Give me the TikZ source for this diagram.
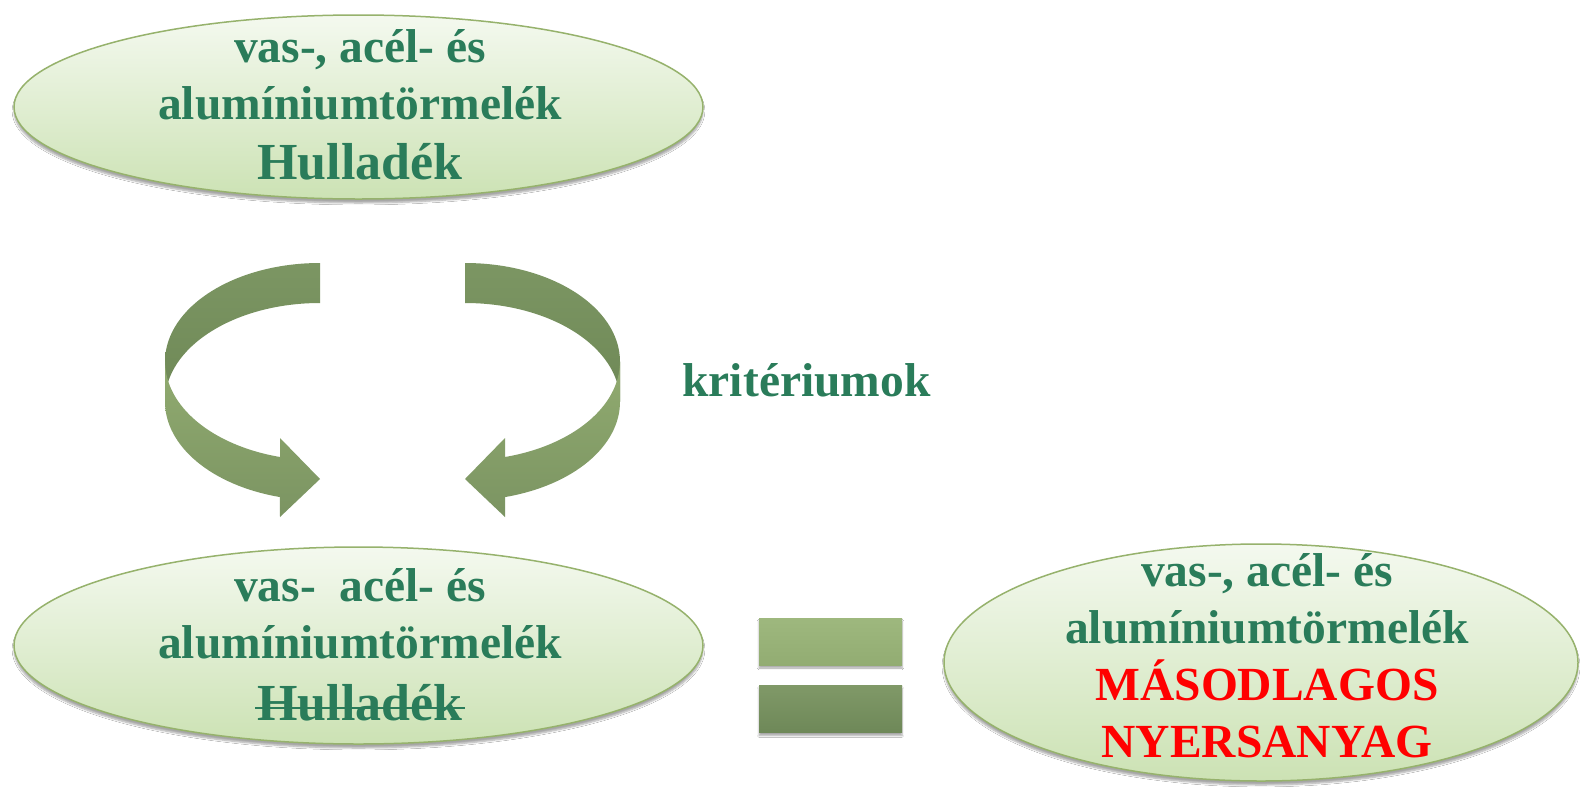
\documentclass[tikz,border=0pt]{standalone}
\usepackage{fontspec}
\setmainfont{Liberation Serif}
\usetikzlibrary{shapes.geometric,shadows.blur}
\definecolor{txtgreen}{RGB}{42,124,90}
\definecolor{ellborder}{RGB}{150,178,108}
\definecolor{ellTop}{RGB}{244,249,239}
\definecolor{ellBot}{RGB}{204,226,180}
\definecolor{backTop}{RGB}{124,150,99}
\definecolor{backBot}{RGB}{110,136,86}
\definecolor{frontTop}{RGB}{145,171,112}
\definecolor{frontBot}{RGB}{123,148,98}
\definecolor{barAtop}{RGB}{158,184,126}
\definecolor{barAbot}{RGB}{146,172,114}
\definecolor{barBtop}{RGB}{128,153,104}
\definecolor{barBbot}{RGB}{110,136,88}
\begin{document}
\begin{tikzpicture}[x=1pt,y=-1pt,
  ell/.style={ellipse, draw=ellborder, line width=1.5pt, top color=ellTop, bottom color=ellBot,
    blur shadow={shadow xshift=0pt, shadow yshift=-4pt, shadow opacity=35, shadow blur steps=6},
    inner sep=0pt, outer sep=0pt},
  txt/.style={font=\fontsize{47.5}{57}\selectfont\bfseries, text=txtgreen, anchor=base, inner sep=0pt},
  txtbig/.style={txt, font=\fontsize{52}{60}\selectfont\bfseries},
  bar/.style={rectangle, inner sep=0pt, minimum width=143pt, minimum height=47pt,
    blur shadow={shadow xshift=0pt, shadow yshift=-3pt, shadow opacity=35, shadow blur steps=5}},
  backband/.style={top color=backTop, bottom color=backBot},
  frontband/.style={top color=frontTop, bottom color=frontBot}
]
\useasboundingbox (0,0) rectangle (1580,788);
\fill[white] (0,0) rectangle (1580,788);

% ellipses
\node[ell, minimum width=689pt, minimum height=184pt] (e1) at (358.5,107) {};
\node[ell, minimum width=689pt, minimum height=197pt] (e2) at (358.5,645.5) {};
\node[ell, minimum width=634pt, minimum height=237pt] (e3) at (1261,662.5) {};

% texts
\node[txt] (t1a) at (360,62) {vas-, acél- és};
\node[txt] (t1b) at (360,119) {alumíniumtörmelék};
\node[txtbig] (t1c) at (360,179) {Hulladék};

\node[txt] (t2a) at (360,601) {vas-\ \ acél- és};
\node[txt] (t2b) at (360,658) {alumíniumtörmelék};
\node[txtbig] (t2c) at (360,720) {Hulladék};
\draw[txtgreen, line width=2.5pt] ([xshift=-2pt,yshift=12pt]t2c.base west) -- ([xshift=2pt,yshift=12pt]t2c.base east);

\node[txt] (t3a) at (1267,586) {vas-, acél- és};
\node[txt] (t3b) at (1267,643) {alumíniumtörmelék};
\node[txt, text=red] (t3c) at (1267,700) {MÁSODLAGOS};
\node[txt, text=red] (t3d) at (1267,757) {NYERSANYAG};

\node[txt] (krit) at (806.5,396) {kritériumok};

% equals sign
\node[bar, top color=barAtop, bottom color=barAbot] (eq1) at (830.5,641.5) {};
\node[bar, top color=barBtop, bottom color=barBbot] (eq2) at (830.5,709) {};

% circular arrows
\foreach \s/\sh in {1/0, -1/785} {
\begin{scope}[shift={(\sh,0)}, xscale=\s]
  \shade[backband] (320,263) arc[start angle=270, end angle=180, x radius=155, y radius=98.7]
     -- (165,401.7) arc[start angle=180, end angle=270, x radius=155, y radius=98.7] -- cycle;
  \shade[frontband] (165,361.7) -- (165,401.7)
     arc[start angle=180, end angle=105, x radius=155, y radius=98.7]
     -- (280,517) -- (320,479) -- (280,438) -- (280,457)
     arc[start angle=105, end angle=180, x radius=155, y radius=98.7] -- cycle;
\end{scope}
}
\end{tikzpicture}
\end{document}
